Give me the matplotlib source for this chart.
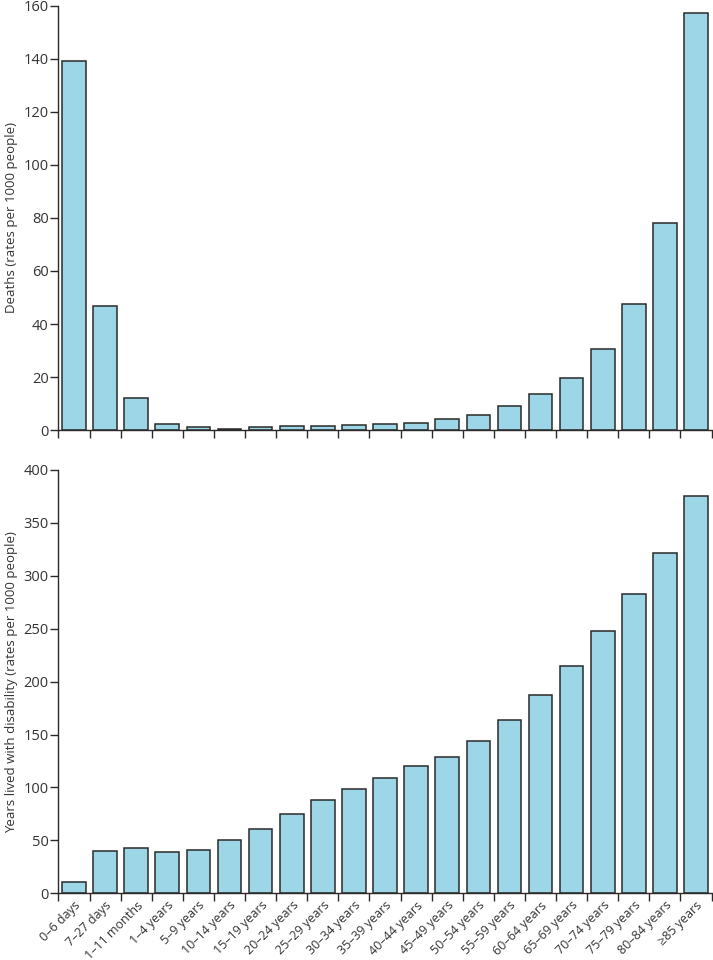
import matplotlib
import matplotlib.pyplot as plt
import numpy as np

plt.rcParams['font.family'] = ['Open Sans', 'DejaVu Sans']
plt.rcParams['xtick.labelsize'] = 9
plt.rcParams['ytick.labelsize'] = 10.5
plt.rcParams['axes.labelsize'] = 9.5

# ---------------- data ---------------- #
age_groups = ['0–6 days', '7–27 days', '1–11 months', '1–4 years', '5–9 years',
              '10–14 years', '15–19 years', '20–24 years', '25–29 years',
              '30–34 years', '35–39 years', '40–44 years', '45–49 years',
              '50–54 years', '55–59 years', '60–64 years', '65–69 years',
              '70–74 years', '75–79 years', '80–84 years', '≥85 years']

deaths = [139.3, 46.7, 12.2, 2.3, 1.0, 0.5, 1.0, 1.4, 1.4, 1.9, 2.3,
          2.8, 4.2, 5.8, 8.9, 13.5, 19.8, 30.4, 47.5, 78.2, 157.1]

ylds = [10.4, 40.3, 42.5, 39.0, 41.3, 50.1, 60.8, 75.3, 88.2, 98.9, 109.3,
        120.4, 128.6, 143.7, 163.9, 187.5, 214.9, 248.0, 282.4, 321.8, 375.0]

deaths_ticks = [0, 20, 40, 60, 80, 100, 120, 140, 160]
ylds_ticks = [0, 50, 100, 150, 200, 250, 300, 350, 400]

# ---------------- plot ---------------- #
bar_color = '#9dd6e7'
edge_color = '#2a2a2a'
text_color = '#333333'

fig = plt.figure(figsize=(7.13, 9.6), dpi=100)
ax1 = fig.add_axes([0.082, 0.552, 0.916, 0.442])
ax2 = fig.add_axes([0.082, 0.0695, 0.916, 0.441])

ind = np.arange(len(age_groups)) + 0.5

def style(ax, values, yticks, ylabel):
  ax.bar(ind, values, width=0.76, color=bar_color, edgecolor=edge_color, linewidth=1.1, zorder=3)
  ax.set_xlim(0, len(age_groups))
  ax.set_ylim(0, yticks[-1])
  ax.set_yticks(yticks)
  ax.set_xticks(np.arange(len(age_groups) + 1))
  ax.set_xticklabels([])
  ax.spines['top'].set_visible(False)
  ax.spines['right'].set_visible(False)
  for s in ['left', 'bottom']:
    ax.spines[s].set_linewidth(1.0)
    ax.spines[s].set_color(edge_color)
    ax.spines[s].set_zorder(4)
  ax.tick_params(axis='both', direction='out', length=6, width=1.0, color=edge_color, labelcolor=text_color, pad=1)
  ax.set_ylabel(ylabel, color=text_color, labelpad=4)

style(ax1, deaths, deaths_ticks, 'Deaths (rates per 1000 people)')
style(ax2, ylds, ylds_ticks, 'Years lived with disability (rates per 1000 people)')

ax2.set_xticks(ind, minor=True)
ax2.set_xticklabels(age_groups, minor=True, rotation=45, ha='right', rotation_mode='anchor')
ax2.tick_params(axis='x', which='minor', length=0, pad=4, labelcolor=text_color, labelsize=9)

plt.savefig('out.png', dpi=100)
